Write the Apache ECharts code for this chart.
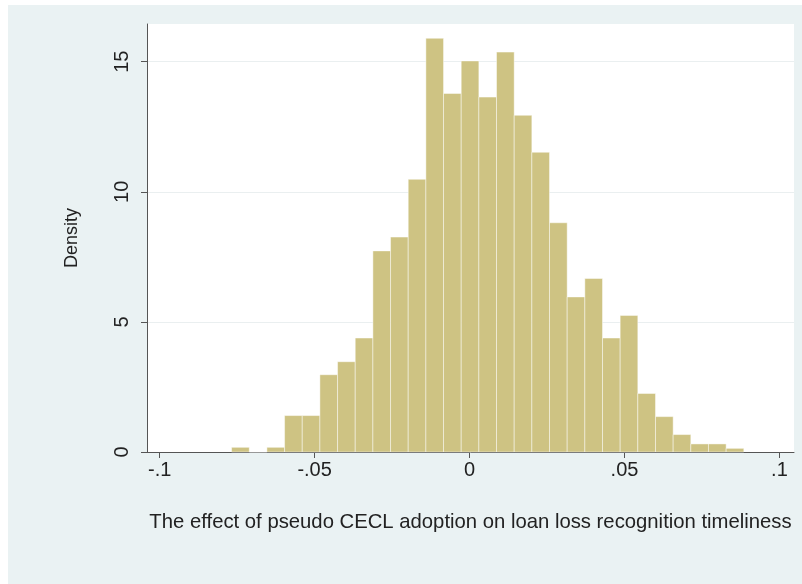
<!DOCTYPE html>
<html>
<head>
<meta charset="utf-8">
<script src="https://cdn.jsdelivr.net/npm/echarts@6/dist/echarts.min.js"></script>
<style>
	html, body { margin: 0; padding: 0; background: #ffffff; }
	#hist {
		position: absolute;
		left: 8px;
		top: 5px;
		width: 794px;
		height: 579px;
	}
</style>
</head>
<body>
<div id="hist"></div>
<script>
	// histogram bins (Stata style density histogram)
	const binStart = -0.0768
	const binWidth = 0.0057
	const density = [
		0.18, 0, 0.18, 1.40, 1.40, 2.97, 3.47, 4.38, 7.73, 8.26,
		10.48, 15.90, 13.78, 15.03, 13.64, 15.37, 12.94, 11.52, 8.81, 5.96,
		6.67, 4.38, 5.25, 2.25, 1.36, 0.67, 0.31, 0.31, 0.14
	]
	const xTicks = [-0.1, -0.05, 0, 0.05, 0.1]
	const xTickLabels = ['-.1', '-.05', '0', '.05', '.1']
	const yTicks = [0, 5, 10, 15]
	const yTickLabels = ['0', '5', '10', '15']

	const bars = density.map(function (d, i) {
		const lo = binStart + i * binWidth
		return [lo, lo + binWidth, d]
	})

	const font = 'Liberation Sans, Arial, sans-serif'
	const chart = echarts.init(document.getElementById('hist'))
	chart.setOption({
		backgroundColor: '#EAF2F3',
		animation: false,
		grid: {
			left: 139,
			top: 19,
			right: 8,
			bottom: 132,
			show: true,
			backgroundColor: '#ffffff',
			borderWidth: 0
		},
		xAxis: {
			type: 'value',
			min: -0.1041,
			max: 0.1047,
			name: 'The effect of pseudo CECL adoption on loan loss recognition timeliness',
			nameLocation: 'middle',
			nameGap: 60,
			nameTextStyle: { fontFamily: font, fontSize: 20.3, color: '#222' },
			axisLine: { show: true, onZero: false, lineStyle: { color: '#555', width: 1 } },
			axisTick: {
				show: true,
				length: 6,
				customValues: xTicks,
				lineStyle: { color: '#555' }
			},
			axisLabel: {
				customValues: xTicks,
				margin: 8,
				fontFamily: font,
				fontSize: 20,
				color: '#222',
				formatter: function (v) {
					return xTickLabels[xTicks.indexOf(v)]
				}
			},
			splitLine: { show: false }
		},
		yAxis: {
			type: 'value',
			min: 0,
			max: 16.45,
			interval: 5,
			name: 'Density',
			nameLocation: 'middle',
			nameGap: 66,
			nameRotate: 90,
			nameTextStyle: { fontFamily: font, fontSize: 18, color: '#222' },
			axisLine: { show: true, onZero: false, lineStyle: { color: '#555', width: 1 } },
			axisTick: {
				show: true,
				length: 6,
				customValues: yTicks,
				lineStyle: { color: '#555' }
			},
			axisLabel: {
				customValues: yTicks,
				rotate: 90,
				margin: 15,
				fontFamily: font,
				fontSize: 20,
				color: '#222',
				formatter: function (v) {
					return yTickLabels[yTicks.indexOf(v)]
				}
			},
			splitLine: { show: true, lineStyle: { color: '#EAEFF0', width: 1 } }
		},
		series: [{
			type: 'custom',
			data: bars,
			encode: { x: [0, 1], y: 2 },
			renderItem: function (params, api) {
				const p0 = api.coord([api.value(0), api.value(2)])
				const p1 = api.coord([api.value(1), 0])
				return {
					type: 'rect',
					shape: { x: p0[0], y: p0[1], width: p1[0] - p0[0], height: p1[1] - p0[1] },
					style: { fill: '#CEC383', stroke: 'rgba(255,255,255,0.45)', lineWidth: 1 }
				}
			}
		}]
	})
</script>
</body>
</html>
